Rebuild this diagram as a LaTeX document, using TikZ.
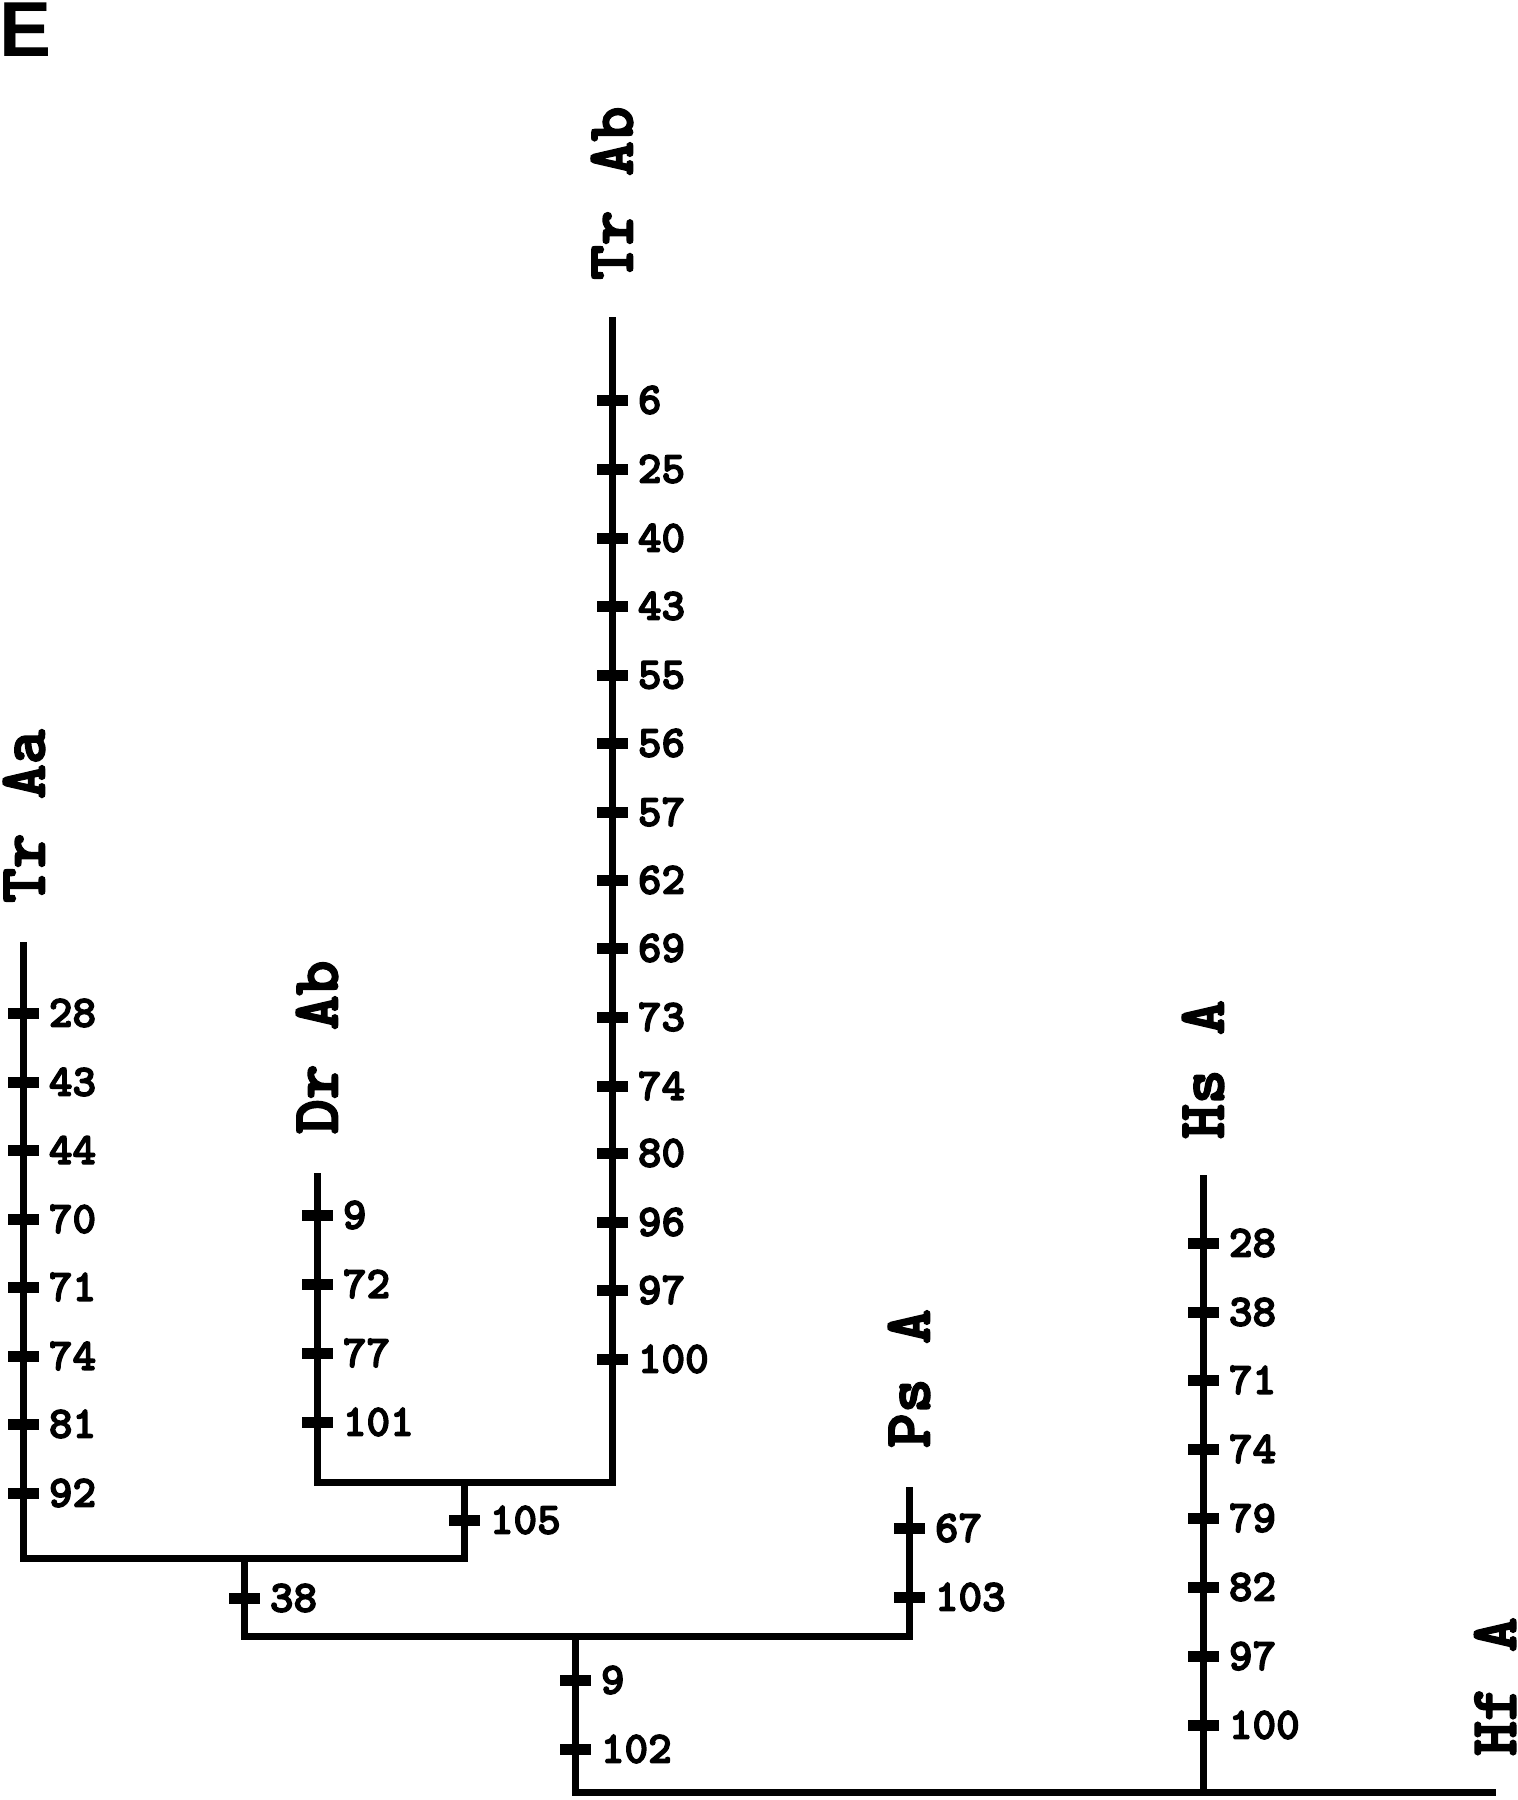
\documentclass[tikz,border=0pt]{standalone}
\usepackage{fontspec}
\newfontfamily\sansfam{Liberation Sans}
\newfontfamily\heavymono{lmmonolt10-bold.otf}[FakeBold=3]
\begin{document}
\begin{tikzpicture}[x=1pt,y=-1pt,
  br/.style={line width=7pt,line join=miter},
  tickbar/.style={rectangle,fill=black,inner sep=0pt,minimum width=31pt,minimum height=11pt},
  numlab/.style={font=\heavymono\fontsize{45}{45}\selectfont,inner sep=0pt,label distance=10pt},
  taxon/.style={font=\heavymono\fontsize{66}{66}\selectfont,inner sep=0pt,rotate=90,anchor=west}]
\useasboundingbox (0,0) rectangle (1518,1800);
\node[font=\sansfam\bfseries\fontsize{78}{78}\selectfont,inner sep=0pt,anchor=north west] (E) at (-1,3) {E};
% branch tops and junctions
\coordinate (aaTop) at (23,942);
\coordinate (drTop) at (317,1173);
\coordinate (abTop) at (612,317);
\coordinate (n105) at (464,1482);
\coordinate (n38) at (244,1558);
\coordinate (n9) at (575,1636);
\coordinate (psTop) at (909,1487);
\coordinate (hsTop) at (1203,1175);
\coordinate (hfEnd) at (1496,1792);
% connectors
\draw[br] (drTop) |- (n105) -| (abTop);
\draw[br] (aaTop) |- (n38) -| (n105);
\draw[br] (n38) |- (n9) -| (psTop);
\draw[br] (n9) |- (hfEnd);
\draw[br] (hsTop) -- (hsTop |- hfEnd);
% taxon labels
\node[taxon] (TrAa) at ([yshift=39pt,xshift=1pt]aaTop) {Tr Aa};
\node[taxon] (DrAb) at ([yshift=39pt]drTop) {Dr Ab};
\node[taxon] (TrAb) at ([yshift=37pt]abTop) {Tr Ab};
\node[taxon] (PsA) at ([yshift=39pt]psTop) {Ps A};
\node[taxon] (HsA) at ([yshift=36pt]hsTop) {Hs A};
\node[taxon] (HfA) at (1495,1756) {Hf A};
% ticks
\foreach \y/\t [count=\i] in {1013/28,1082/43,1150/44,1219/70,1287/71,1356/74,1424/81,1493/92}
  \node[tickbar,label={[numlab]right:\t}] (aa\i) at (23,\y) {};
\foreach \y/\t [count=\i] in {1215/9,1284/72,1353/77,1422/101}
  \node[tickbar,label={[numlab]right:\t}] (dr\i) at (317,\y) {};
\foreach \y/\t [count=\i] in {400/6,469/25,538/40,606/43,675/55,743/56,812/57,880/62,948/69,1017/73,1086/74,1153/80,1222/96,1290/97,1359/100}
  \node[tickbar,label={[numlab]right:\t}] (ab\i) at (612,\y) {};
\node[tickbar,label={[numlab]right:105}] (t105) at (464,1520) {};
\node[tickbar,label={[numlab]right:38}] (t38) at (244,1598) {};
\foreach \y/\t [count=\i] in {1528/67,1597/103}
  \node[tickbar,label={[numlab]right:\t}] (ps\i) at (909,\y) {};
\foreach \y/\t [count=\i] in {1680/9,1749/102}
  \node[tickbar,label={[numlab]right:\t}] (r\i) at (575,\y) {};
\foreach \y/\t [count=\i] in {1243/28,1312/38,1380/71,1449/74,1518/79,1587/82,1656/97,1725/100}
  \node[tickbar,label={[numlab]right:\t}] (hs\i) at (1203,\y) {};
\end{tikzpicture}
\end{document}
